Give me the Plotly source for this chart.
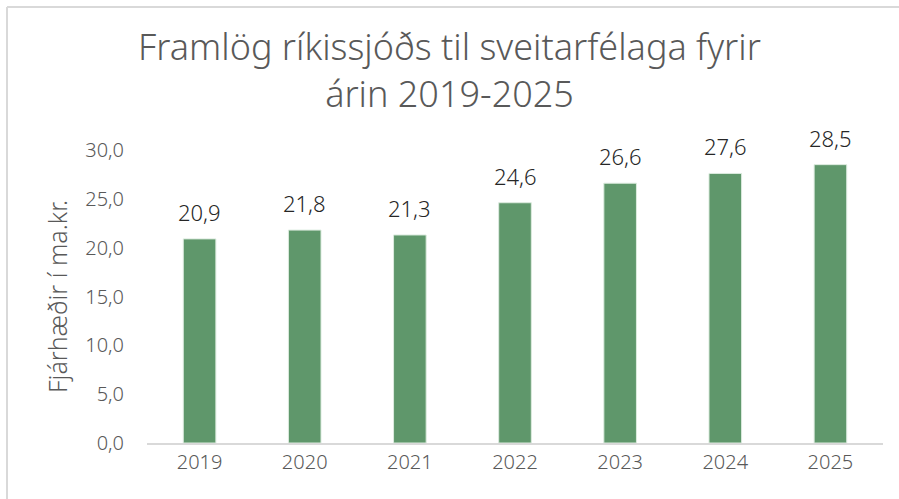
import plotly.graph_objects as go

years = ["2019", "2020", "2021", "2022", "2023", "2024", "2025"]
amounts = [20.9, 21.8, 21.3, 24.6, 26.6, 27.6, 28.5]
amount_labels = ["20,9", "21,8", "21,3", "24,6", "26,6", "27,6", "28,5"]
y_ticks = [0, 5, 10, 15, 20, 25, 30]
y_tick_labels = ["0,0", "5,0", "10,0", "15,0", "20,0", "25,0", "30,0"]

FONT = "Noto Sans"
W, H = 899, 499
ML, MR, MT, MB = 147, 16, 150, 56
pw = W - ML - MR
ph = H - MT - MB

fig = go.Figure()
fig.add_trace(go.Bar(
    x=years,
    y=amounts,
    marker=dict(color="#5f976b", line=dict(color="#dcebdf", width=1)),
    hoverinfo="skip",
))

# value labels above bars (x given as category index, numeric-looking
# strings would otherwise be read as indices on a category axis)
for i, (val, lab) in enumerate(zip(amounts, amount_labels)):
    fig.add_annotation(x=i, y=val, text=lab, showarrow=False,
                       yanchor="bottom", yshift=10,
                       font=dict(family=FONT, size=22, color="#262626", weight=300))

# light grey frame around the chart (only left and top edges visible)
fig.add_shape(type="line", xref="paper", yref="paper",
              x0=(7 - ML) / pw, x1=(W + 5 - ML) / pw,
              y0=1 + (MT - 7) / ph, y1=1 + (MT - 7) / ph,
              line=dict(color="#d9d9d9", width=2))
fig.add_shape(type="line", xref="paper", yref="paper",
              x0=(7 - ML) / pw, x1=(7 - ML) / pw,
              y0=1 + (MT - 7) / ph, y1=-(MB + 5) / ph,
              line=dict(color="#d9d9d9", width=2))

fig.update_layout(
    width=W, height=H,
    margin=dict(l=ML, r=MR, t=MT, b=MB),
    paper_bgcolor="white",
    plot_bgcolor="white",
    bargap=0.69,
    showlegend=False,
    title=dict(
        text="Framlög ríkissjóðs til sveitarfélaga fyrir<br>árin 2019-2025",
        xref="container", x=0.5, xanchor="center",
        yref="container", y=0.879, yanchor="top",
        font=dict(family=FONT, size=36, color="#595959", weight=300),
    ),
    font=dict(family=FONT, color="#595959"),
)
fig.update_xaxes(
    type="category",
    showline=True, linecolor="#d9d9d9", linewidth=1.5,
    showgrid=False, ticks="",
    tickfont=dict(family=FONT, size=20, color="#595959", weight=300),
)
fig.update_yaxes(
    range=[0, 30],
    tickvals=y_ticks, ticktext=y_tick_labels,
    showgrid=False, zeroline=False, showline=False, ticks="",
    ticklabelstandoff=22,
    tickfont=dict(family=FONT, size=20, color="#595959", weight=300),
    title=dict(text="Fjárhæðir í ma.kr.", standoff=10,
               font=dict(family=FONT, size=25, color="#595959", weight=300)),
)

# the page's default body margin would shift the chart; remove it
fig.write_html("out.html", config={"displayModeBar": False},
               post_script="document.body.style.margin='0';")
